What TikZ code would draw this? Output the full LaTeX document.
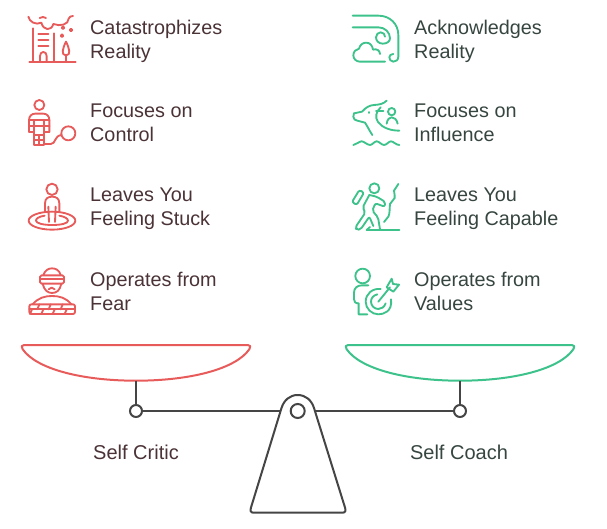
\documentclass[tikz,border=0pt]{standalone}
\usepackage{fontspec}
\setmainfont{Liberation Sans}
\definecolor{cred}{HTML}{E85B5B}
\definecolor{cgreen}{HTML}{3CC28A}
\definecolor{tred}{HTML}{4A3236}
\definecolor{tgreen}{HTML}{36453F}
\definecolor{cgray}{HTML}{454545}
\tikzset{
 lab/.style={anchor=west,align=left,inner sep=0pt,font=\fontsize{19.8}{24}\selectfont,execute at begin node=\strut,execute at end node=\strut},
 labl/.style={lab,text=tred},
 labr/.style={lab,text=tgreen},
 captext/.style={inner sep=0pt,font=\fontsize{20}{24}\selectfont},
 ic/.style={line width=1.85pt,line cap=round,line join=round},
 icr/.style={ic,draw=cred},
 icg/.style={ic,draw=cgreen},
 beam/.style={line width=2pt,draw=cgray},
 pivot/.style={circle,draw=cgray,line width=2pt,fill=white,minimum size=12pt,inner sep=0pt},
 bowl/.style={line width=2pt,line join=round},
}
\begin{document}
\begin{tikzpicture}[x=1pt,y=-1pt]
\useasboundingbox (0,0) rectangle (607,529);
% labels
\node[labl] (l1) at (90,42.5) {Catastrophizes\\Reality};
\node[labl] (l2) at (90,126.5) {Focuses on\\Control};
\node[labl] (l3) at (90,210.5) {Leaves You\\Feeling Stuck};
\node[labl] (l4) at (90,294.5) {Operates from\\Fear};
\node[labr] (r1) at (414,42.5) {Acknowledges\\Reality};
\node[labr] (r2) at (414,126.5) {Focuses on\\Influence};
\node[labr] (r3) at (414,210.5) {Leaves You\\Feeling Capable};
\node[labr] (r4) at (414,294.5) {Operates from\\Values};
% icon: building under a cloud
\begin{scope}[shift={(10,0)},scale=1/3,icr]
\draw (58,185) -- (197,185);
\draw (68,85) -- (68,185);
\draw (132,100) -- (132,185);
\draw (85,103) -- (115,103) (85,121) -- (115,121) (85,139) -- (115,139);
\draw (90,185) -- (90,168) .. controls (90,152) and (110,152) .. (110,168) -- (110,185);
\draw (168,185) -- (168,165);
\draw (168,166) .. controls (152,166) and (158,145) .. (168,125) .. controls (178,145) and (184,166) .. (168,166);
\draw (159,83) circle (4) (183,90) circle (4) (156,107) circle (4);
\draw (55,50) .. controls (58,66) and (78,76) .. (94,68) .. controls (100,92) and (124,94) .. (130,72) .. controls (150,80) and (176,74) .. (176,56) .. controls (178,50) and (183,48) .. (189,48);
\draw (89,54) .. controls (95,50) and (103,50) .. (108,54);
\end{scope}
% icon: person with ball and chain
\begin{scope}[shift={(10,0)},scale=1/3,icr]
\draw (88,315) circle (15);
\draw (57,395) -- (57,360) .. controls (57,348) and (66,341) .. (75,341) -- (100,341) .. controls (110,341) and (118,348) .. (118,360) -- (118,395);
\draw (57,395) -- (72,395) (118,395) -- (102,395);
\draw (72,360) -- (72,435) -- (102,435) -- (102,360);
\draw (57,360) -- (118,360) (57,377) -- (118,377);
\draw (72,405) -- (102,405) (72,420) -- (102,420) (87,405) -- (87,435);
\draw (102,432) -- (122,432) .. controls (138,432) and (132,408) .. (154,405);
\draw (175,400) circle (21);
\end{scope}
% icon: person in a hole
\begin{scope}[shift={(10,170)},scale=1/3,icr]
\draw (126,58) circle (17);
\draw (105,125) -- (105,100) .. controls (105,85) and (115,80) .. (126,80) .. controls (138,80) and (148,85) .. (148,100) -- (148,125);
\draw (105,125) -- (115,125) (148,125) -- (137,125);
\draw (115,110) -- (117,156) (137,110) -- (135,156);
\draw (126,152) ellipse (70 and 27);
\draw (104,137) .. controls (85,140) and (78,146) .. (78,152) .. controls (78,160) and (100,165) .. (126,165) .. controls (155,165) and (174,160) .. (174,152) .. controls (174,146) and (165,140) .. (148,137);
\end{scope}
% icon: blindfolded person behind a wall
\begin{scope}[shift={(10,227)},scale=1/3,icr]
\draw (100,144) .. controls (105,130) and (115,124) .. (126,124) .. controls (138,124) and (148,130) .. (152,144);
\draw (98,170) .. controls (102,190) and (114,198) .. (126,198) .. controls (140,198) and (150,190) .. (154,170);
\draw[rounded corners=1.5pt] (90,145) -- (162,145) -- (162,170) -- (90,170) -- cycle;
\draw (90,157) -- (162,157);
\draw (116,187) .. controls (120,180) and (130,180) .. (134,187);
\draw (68,232) .. controls (85,212) and (105,207) .. (126,207) .. controls (148,207) and (168,212) .. (184,232);
\draw[rounded corners=2pt] (58,232) -- (195,232) -- (195,261) -- (58,261) -- cycle;
\draw (58,247) -- (195,247);
\draw (88,232) -- (82,247) (122,232) -- (116,247) (158,232) -- (152,247);
\draw (66,247) -- (60,261) (100,247) -- (94,261) (134,247) -- (128,261) (170,247) -- (164,261);
\end{scope}
% icon: wind and cloud
\begin{scope}[shift={(340,0)},scale=1/3,icg]
\draw (38,47) -- (115,47) .. controls (150,47) and (175,72) .. (175,105) -- (175,170) .. controls (175,180) and (168,185) .. (160,185) .. controls (152,185) and (148,178) .. (148,172) .. controls (148,166) and (153,162) .. (160,162);
\draw (38,82) -- (115,82) .. controls (135,82) and (150,97) .. (150,115) .. controls (150,125) and (140,131) .. (128,131) .. controls (116,131) and (108,122) .. (108,112) .. controls (108,103) and (115,97) .. (122,97) .. controls (130,97) and (135,103) .. (135,110);
\draw (135,185) -- (60,185) .. controls (48,185) and (40,176) .. (40,166) .. controls (40,155) and (48,147) .. (57,146) .. controls (60,135) and (68,128) .. (78,128) .. controls (90,128) and (97,136) .. (99,149) .. controls (110,145) and (120,152) .. (120,162);
\end{scope}
% icon: dragon and person
\begin{scope}[shift={(340,0)},scale=1/3,icg]
\draw (140,302) .. controls (130,312) and (118,314) .. (102,315) .. controls (88,316) and (78,322) .. (66,335) -- (42,340) -- (40,350) .. controls (40,358) and (46,361) .. (52,362) -- (75,368) .. controls (82,378) and (88,392) .. (97,405);
\draw (88,336) -- (88,339);
\draw (108,333) -- (130,333);
\draw (122,322) .. controls (108,335) and (104,352) .. (114,366) .. controls (128,384) and (152,392) .. (178,392);
\draw (155,335) circle (11);
\draw (140,371) .. controls (142,358) and (148,352) .. (155,352) .. controls (163,352) and (170,358) .. (173,371);
\draw (40,435) .. controls (50,433) and (58,424) .. (65,424) .. controls (72,424) and (82,435) .. (90,435) .. controls (97,435) and (103,424) .. (110,424) .. controls (117,424) and (125,435) .. (132,435) .. controls (140,435) and (146,424) .. (153,424) .. controls (160,424) and (168,435) .. (178,435);
\end{scope}
% icon: climber
\begin{scope}[shift={(340,170)},scale=1/3,icg]
\draw (103,55) circle (15);
\draw[rounded corners=2.2pt] (36,96) -- (58,60) -- (72,68) -- (50,105) -- cycle;
\draw[rounded corners=2pt] (88,75) -- (110,80) -- (136,96) -- (134,110) -- (106,100) -- (97,122) -- (114,142) -- (120,178);
\draw[rounded corners=2pt] (88,75) -- (68,112) -- (76,128) -- (46,172) -- (50,180) -- (62,178) -- (88,140) -- (100,168);
\draw (175,42) -- (162,62) .. controls (160,72) and (168,78) .. (164,84) -- (150,102) .. controls (148,120) and (150,130) .. (145,140) -- (132,156);
\draw (80,180) -- (178,180);
\draw (80,180) -- (90,171);
\end{scope}
% icon: person with a target
\begin{scope}[shift={(340,170)},scale=1/3,icg]
\draw (68,318) circle (22);
\draw (82,433) -- (56,433) -- (56,400) .. controls (46,400) and (42,396) .. (42,388) -- (42,368) .. controls (42,354) and (52,346) .. (66,346) -- (85,346);
\draw (153,388) .. controls (158,425) and (130,433) .. (115,433) .. controls (95,433) and (77,416) .. (77,395) .. controls (77,372) and (97,354) .. (122,357);
\draw (137,400) .. controls (133,411) and (125,417) .. (115,417) .. controls (103,417) and (93,407) .. (93,395) .. controls (93,384) and (100,376) .. (112,373);
\draw (115,395) -- (150,352);
\draw (140,352) -- (155,326) -- (159,342) -- (177,344) -- (160,365) -- (140,352);
\end{scope}
% scale
\coordinate (bl) at (136,380.7);
\coordinate (br) at (460,380.7);
\draw[bowl,draw=cred] (24,345) -- (248,345) .. controls (250.5,345) and (251,347) .. (249.5,349) .. controls (236,369) and (190,380.7) .. (bl) .. controls (82,380.7) and (36,369) .. (22.5,349) .. controls (21,347) and (21.5,345) .. (24,345) -- cycle;
\draw[bowl,draw=cgreen] (348,345) -- (572,345) .. controls (574.5,345) and (575,347) .. (573.5,349) .. controls (560,369) and (514,380.7) .. (br) .. controls (406,380.7) and (360,369) .. (346.5,349) .. controls (345,347) and (345.5,345) .. (348,345) -- cycle;
\node[pivot] (pl) at (136,411) {};
\node[pivot] (pr) at (460,411) {};
\node[pivot,minimum size=14pt] (pin) at (297.7,411) {};
\draw[beam] (bl) -- (pl.north);
\draw[beam] (br) -- (pr.north);
\draw[beam] (pl.east) -- (pin.west);
\draw[beam] (pr.west) -- (pin.east);
\draw[beam,fill=white,line join=round] (253.5,512.7) .. controls (250.5,512.7) and (250,510.5) .. (251,507.5) -- (281.5,408) .. controls (284,400) and (290,395) .. (297.7,395) .. controls (305.5,395) and (311.5,400) .. (314,408) -- (345,507.5) .. controls (346,510.5) and (345.5,512.7) .. (342.5,512.7) -- cycle;
\node[pivot,minimum size=14pt] at (pin) {};
\node[captext,text=tred] (c1) at (136,452) {Self Critic};
\node[captext,text=tgreen] (c2) at (459,452) {Self Coach};
\end{tikzpicture}
\end{document}
